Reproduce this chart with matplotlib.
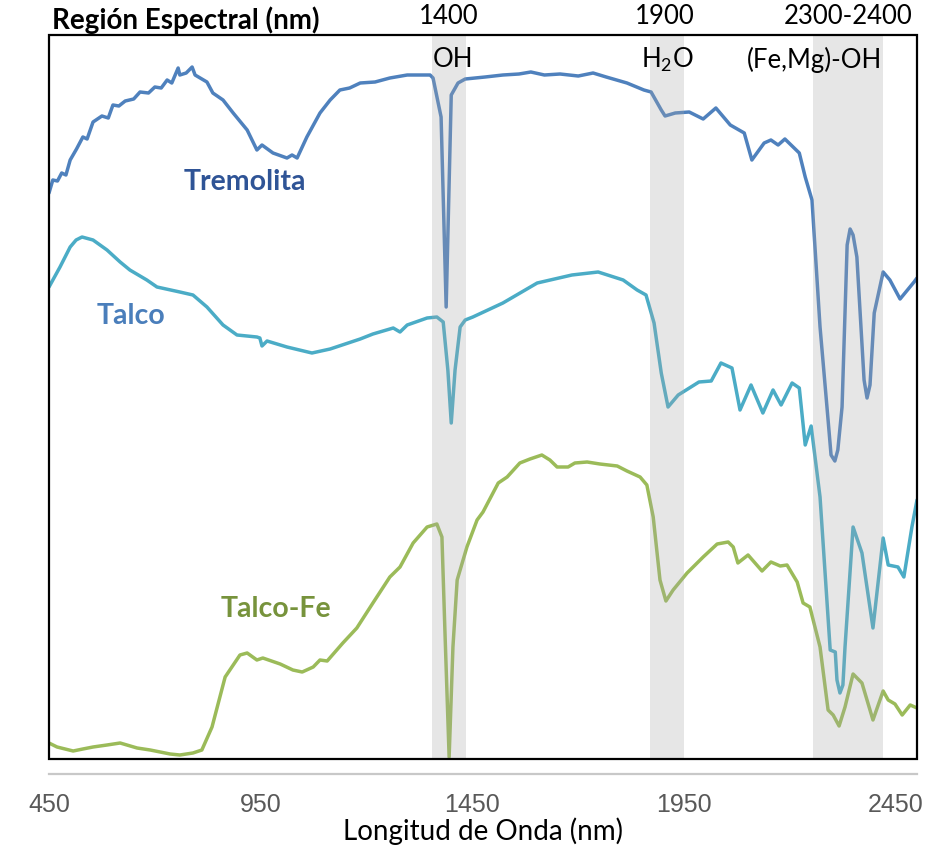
import matplotlib
matplotlib.use("Agg")
import matplotlib.pyplot as plt
from matplotlib.patches import Rectangle
import matplotlib.transforms as mtransforms

# ---- spectra (wavelength in nm, offset reflectance in a.u.) ----
tremolita_wl = [450, 459, 470, 480, 490, 500, 515, 530, 540, 554, 575, 590, 601, 615, 630, 650, 665, 685,
                700, 715, 729, 740, 755, 759, 774, 788, 795, 807, 823, 837, 861, 885, 918, 941, 953, 979,
                1012, 1024, 1036, 1059, 1090, 1114, 1137, 1160, 1185, 1220, 1255, 1296, 1350, 1357, 1376,
                1388, 1400, 1416, 1433, 1480, 1522, 1560, 1588, 1620, 1657, 1700, 1735, 1766, 1815, 1855,
                1872, 1896, 1905, 1929, 1962, 1995, 2025, 2059, 2092, 2110, 2139, 2155, 2172, 2188, 2222,
                2236, 2252, 2271, 2290, 2297, 2306, 2313, 2323, 2335, 2342, 2349, 2358, 2375, 2382, 2389,
                2399, 2420, 2436, 2460, 2493, 2500]
tremolita_val = [56.6, 57.9, 57.8, 58.6, 58.4, 59.9, 61.0, 62.2, 62.0, 63.7, 64.3, 64.1, 65.4, 65.3, 65.8,
                 66.0, 66.7, 66.6, 67.2, 67.1, 67.9, 67.6, 69.1, 68.4, 68.6, 69.2, 68.4, 68.1, 67.7, 66.6,
                 65.9, 64.6, 62.9, 60.9, 61.4, 60.6, 60.1, 60.4, 60.1, 62.2, 64.6, 65.9, 66.9, 67.1, 67.6,
                 67.7, 68.1, 68.4, 68.4, 68.1, 64.2, 45.2, 66.4, 67.6, 68.0, 68.2, 68.4, 68.5, 68.7, 68.4,
                 68.5, 68.3, 68.6, 68.2, 67.6, 66.9, 66.7, 64.9, 64.3, 64.6, 64.7, 64.0, 65.1, 63.4, 62.6,
                 59.9, 61.6, 61.9, 61.4, 62.0, 60.6, 58.2, 55.9, 43.2, 33.9, 30.4, 29.8, 30.9, 35.2, 51.4,
                 53.0, 52.4, 50.2, 37.9, 36.1, 37.4, 44.6, 48.7, 47.9, 46.0, 47.7, 48.1]

talco_wl = [450, 476, 500, 514, 528, 554, 587, 618, 641, 681, 705, 759, 790, 823, 861, 894, 941, 948, 953,
            965, 1012, 1071, 1114, 1185, 1215, 1263, 1279, 1296, 1343, 1366, 1381, 1392, 1400, 1409, 1421,
            1433, 1451, 1522, 1603, 1685, 1747, 1806, 1839, 1860, 1879, 1896, 1912, 1936, 1985, 2014, 2037,
            2063, 2082, 2108, 2136, 2160, 2179, 2205, 2222, 2236, 2250, 2271, 2295, 2307, 2311, 2318, 2325,
            2330, 2349, 2370, 2396, 2420, 2432, 2455, 2469, 2488, 2500]
talco_val = [47.2, 49.2, 51.2, 51.9, 52.2, 51.9, 50.9, 49.7, 48.9, 47.9, 47.2, 46.7, 46.4, 45.2, 43.4, 42.4,
             42.2, 42.1, 41.3, 41.8, 41.2, 40.6, 41.0, 42.0, 42.5, 43.1, 42.7, 43.4, 44.1, 44.2, 43.7, 38.9,
             33.6, 38.9, 43.2, 43.9, 44.2, 45.6, 47.6, 48.4, 48.7, 47.9, 46.9, 46.4, 43.6, 38.6, 35.2, 36.4,
             37.7, 37.8, 39.6, 39.1, 34.9, 37.4, 34.6, 36.9, 35.4, 37.6, 37.1, 31.4, 33.3, 26.2, 10.9, 10.7,
             7.9, 6.6, 7.4, 11.2, 23.2, 20.6, 13.1, 22.1, 19.4, 19.2, 18.2, 23.2, 25.9]

talco_fe_wl = [450, 469, 507, 530, 554, 587, 618, 658, 689, 736, 759, 790, 811, 835, 866, 901, 918, 941,
               955, 996, 1026, 1048, 1074, 1090, 1107, 1144, 1177, 1215, 1255, 1279, 1310, 1343, 1366,
               1378, 1385, 1395, 1404, 1414, 1437, 1461, 1475, 1511, 1532, 1562, 1586, 1614, 1633, 1650,
               1676, 1692, 1721, 1751, 1792, 1815, 1846, 1862, 1877, 1893, 1907, 1924, 1957, 1995, 2028,
               2054, 2066, 2077, 2101, 2134, 2155, 2177, 2193, 2217, 2231, 2247, 2271, 2290, 2302, 2316,
               2330, 2349, 2370, 2396, 2420, 2432, 2448, 2465, 2484, 2500]
talco_fe_val = [1.6, 1.2, 0.8, 1.0, 1.2, 1.4, 1.6, 1.1, 0.9, 0.5, 0.4, 0.6, 0.9, 3.2, 8.2, 10.4, 10.6, 9.9,
                10.1, 9.5, 8.9, 8.7, 9.2, 9.9, 9.8, 11.6, 13.1, 15.6, 18.2, 19.2, 21.6, 23.2, 23.5, 22.2,
                12.9, 0.2, 11.2, 17.9, 21.2, 23.9, 24.7, 27.6, 28.2, 29.6, 30.0, 30.4, 29.9, 29.2, 29.2,
                29.6, 29.7, 29.5, 29.3, 28.8, 28.2, 27.4, 24.2, 17.9, 15.8, 16.9, 18.6, 20.2, 21.5, 21.7,
                21.2, 19.6, 20.4, 18.8, 19.7, 19.3, 19.4, 17.7, 15.6, 15.2, 11.2, 4.9, 4.4, 3.3, 5.2, 8.5,
                7.6, 3.9, 6.8, 5.9, 5.5, 4.4, 5.4, 5.1]

# absorption regions (nm) and their captions
band_ranges = [(1355, 1435), (1870, 1950), (2255, 2420)]
band_top_labels = ["1400", "1900", "2300-2400"]
band_top_x = [1395, 1905, 2337]
band_names = ["OH", r"H$_2$O", "(Fe,Mg)-OH"]
band_names_x = [1404, 1910, 2259]

xticks = [450, 950, 1450, 1950, 2450]

series_names = ["Tremolita", "Talco", "Talco-Fe"]
line_colors = ["#4f81bd", "#4bacc6", "#9bbb59"]
label_colors = ["#2f5496", "#4a7ebb", "#77933c"]
label_pos = [(913, 57.7), (644, 44.3), (986, 15.0)]

plt.rcParams["mathtext.fontset"] = "custom"
plt.rcParams["mathtext.rm"] = "Lato"

W, H = 939, 847
fig = plt.figure(figsize=(W / 100, H / 100), dpi=100)
ax = fig.add_axes([49 / W, 1 - 759 / H, 868 / W, 724 / H])
ax.set_xlim(450, 2500)
ax.set_ylim(0, 72.4)

for wl, val, c in zip([tremolita_wl, talco_wl, talco_fe_wl],
                      [tremolita_val, talco_val, talco_fe_val], line_colors):
    ax.plot(wl, val, color=c, lw=2.5, solid_joinstyle="round", solid_capstyle="round", zorder=2)

# translucent grey bands over the spectra
for lo, hi in band_ranges:
    ax.axvspan(lo, hi, ymin=0, ymax=1, color="#a8a8a8", alpha=0.28, lw=0, zorder=3)

for name, (x, y), c in zip(series_names, label_pos, label_colors):
    ax.text(x, y, name, color=c, fontsize=20.5, fontfamily="Lato", fontweight="bold",
            ha="center", va="center", zorder=5)

trans = mtransforms.blended_transform_factory(ax.transData, ax.transAxes)
for lab, x in zip(band_top_labels, band_top_x):
    ax.text(x, 1.025, lab, transform=trans, ha="center", va="center", fontsize=18.5,
            fontfamily="Lato", color="black", clip_on=False)
for lab, x in zip(band_names, band_names_x):
    ax.text(x, 0.966, lab, transform=trans, ha="center", va="center", fontsize=18.5,
            fontfamily="Lato", color="black", zorder=6)

# frame
for s in ["left", "right", "top"]:
    ax.spines[s].set_visible(False)
ax.add_patch(Rectangle((0, 0), 1, 1, transform=ax.transAxes, fill=False, edgecolor="black",
                       lw=1.6, clip_on=False, zorder=7))
ax.spines["bottom"].set_position(("outward", 10.5))
ax.spines["bottom"].set_color("#c8c8c8")
ax.spines["bottom"].set_linewidth(1.6)

ax.set_yticks([])
ax.set_xticks(xticks)
ax.set_xticklabels([str(t) for t in xticks], fontfamily="Liberation Sans", fontsize=18, color="#595959")
ax.tick_params(axis="x", length=0, pad=14)

fig.text(52 / W, 1 - 20 / H, "Región Espectral (nm)", fontsize=20, fontfamily="Lato",
         fontweight="bold", ha="left", va="center", color="black")
fig.text(483 / W, 1 - 831 / H, "Longitud de Onda (nm)", fontsize=20, fontfamily="Lato",
         ha="center", va="center", color="black")

fig.savefig("out.png", dpi=100)
